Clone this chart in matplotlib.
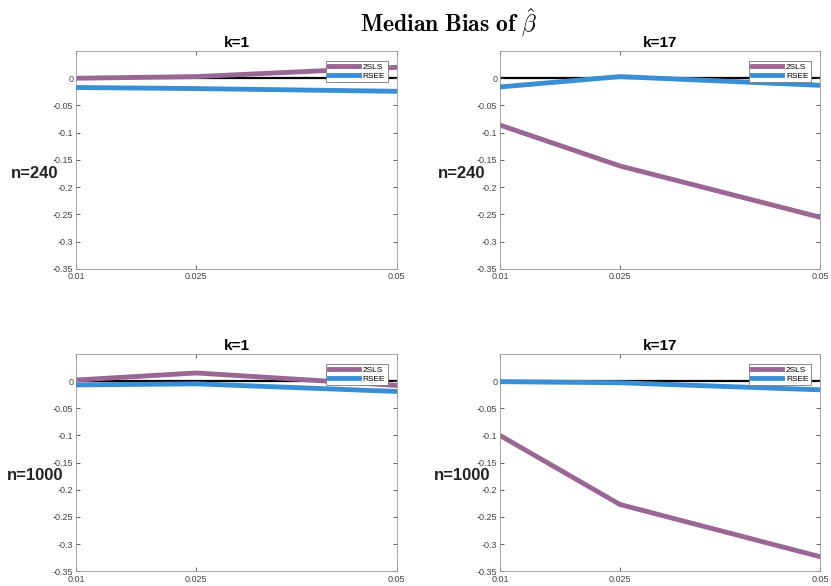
import numpy as np
import matplotlib.pyplot as plt

plt.rcParams['font.family'] = ['Liberation Sans', 'DejaVu Sans']
plt.rcParams['mathtext.fontset'] = 'cm'

# kappa grid on the x axis
kappa = [0.01, 0.025, 0.05]
xticklabels = ['0.01', '0.025', '0.05']

# median bias, rows n=240 / n=1000, columns k=1 / k=17
tsls_n240_k1 = [0.000, 0.003, 0.020]
rsee_n240_k1 = [-0.017, -0.019, -0.024]
tsls_n240_k17 = [-0.086, -0.161, -0.255]
rsee_n240_k17 = [-0.016, 0.003, -0.013]
tsls_n1000_k1 = [0.002, 0.015, -0.008]
rsee_n1000_k1 = [-0.007, -0.005, -0.019]
tsls_n1000_k17 = [-0.100, -0.227, -0.323]
rsee_n1000_k17 = [-0.001, -0.003, -0.016]

panels = [
    ('k=1', 'n=240', tsls_n240_k1, rsee_n240_k1),
    ('k=17', 'n=240', tsls_n240_k17, rsee_n240_k17),
    ('k=1', 'n=1000', tsls_n1000_k1, rsee_n1000_k1),
    ('k=17', 'n=1000', tsls_n1000_k17, rsee_n1000_k17),
]

# axes rectangles in figure fractions
rects = [
    [0.0915, 0.541, 0.386, 0.372],
    [0.6017, 0.541, 0.385, 0.372],
    [0.0915, 0.025, 0.386, 0.371],
    [0.6017, 0.025, 0.385, 0.371],
]
label_x = [0.042, 0.556, 0.042, 0.556]

purple = '#9a6795'
blue = '#3a8fd4'

fig = plt.figure(figsize=(8.31, 5.86), dpi=100)

for (ktitle, nlabel, tsls, rsee), rect, lx in zip(panels, rects, label_x):
    ax = fig.add_axes(rect)
    ax.plot(kappa, [0, 0, 0], color='black', lw=1.6, zorder=1)
    ax.plot(kappa, tsls, color=purple, lw=3.5, label='2SLS', zorder=2)
    ax.plot(kappa, rsee, color=blue, lw=3.5, label='RSEE', zorder=3)
    ax.set_xlim(0.01, 0.05)
    ax.set_ylim(-0.35, 0.05)
    ax.set_xticks(kappa)
    ax.set_xticklabels(xticklabels)
    ax.set_yticks(np.arange(-0.35, 0.001, 0.05))
    ax.set_yticklabels(['-0.35', '-0.3', '-0.25', '-0.2', '-0.15', '-0.1', '-0.05', '0'])
    ax.tick_params(direction='in', length=3, width=0.6, labelsize=6.5,
                   colors='#444444', top=True, right=True, pad=2)
    ax.tick_params(axis='x', pad=2.5)
    # lift the lowest y label a little so it clears the first x label
    ax.get_yticklabels()[0].set_va('center_baseline')
    for s in ax.spines.values():
        s.set_color('#999999')
        s.set_linewidth(0.6)
    ax.set_title(ktitle, fontsize=11, fontweight='bold', pad=3)
    leg = ax.legend(loc='upper right', fontsize=6, handlelength=3.6,
                    borderpad=0.3, labelspacing=0.1, handletextpad=0.5,
                    fancybox=False, framealpha=1, bbox_to_anchor=(0.985, 0.975))
    leg.get_frame().set_edgecolor('#777777')
    leg.get_frame().set_linewidth(0.6)
    fig.text(lx, rect[1] + rect[3] * 0.44, nlabel, fontsize=12, fontweight='bold',
             ha='center', va='center', color='#222222')

fig.text(0.54, 0.962, r'$\mathbf{Median\ Bias\ of}\ \hat{\beta}$', fontsize=17,
         ha='center', va='center')

fig.savefig('out.png', dpi=100)
